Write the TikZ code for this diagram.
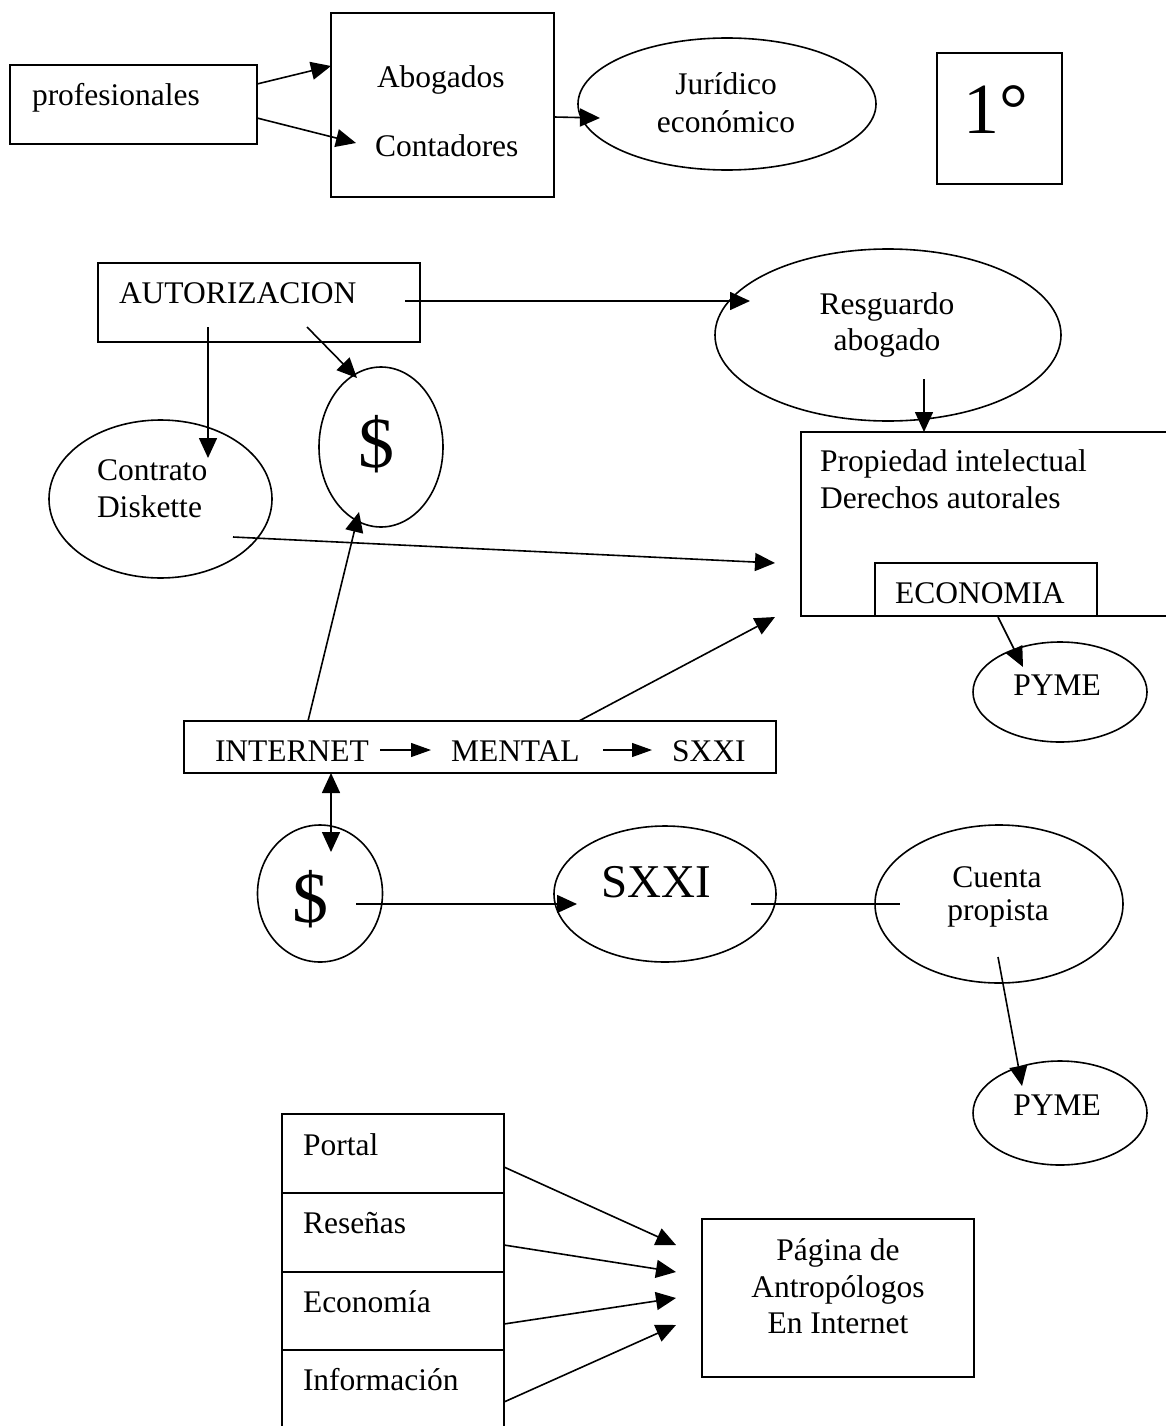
\documentclass[tikz,border=0pt]{standalone}
\usepackage{fontspec}
\setmainfont{Liberation Serif}
\usetikzlibrary{shapes.geometric,arrows.meta}
\begin{document}
\begin{tikzpicture}[x=1pt,y=-1pt,
  line width=1.6pt,
  rbox/.style={draw, rectangle, inner sep=0pt, outer sep=0pt},
  ebox/.style={draw, ellipse, inner sep=0pt, outer sep=0pt},
  lbl/.style={inner sep=0pt, outer sep=0pt, font=\fontsize{31.5}{36}\selectfont},
  lblw/.style={lbl, anchor=base west},
  lblc/.style={lbl, anchor=base},
  bigtxt/.style={inner sep=0pt, outer sep=0pt, font=\fontsize{72}{80}\selectfont},
  arr/.style={-{Triangle[length=20pt,width=18pt]}},
  dblarr/.style={{Triangle[length=20pt,width=18pt]}-{Triangle[length=20pt,width=18pt]}},
  smallarr/.style={line width=1.2pt, -{Triangle[length=20pt,width=14pt]}},
]
\useasboundingbox (0,0) rectangle (1165,1426);

% ---------- shapes ----------
\node[rbox, minimum width=247pt, minimum height=79pt] (prof) at (133.5,104.5) {};
\node[rbox, minimum width=223pt, minimum height=184pt] (abog) at (442.5,105) {};
\node[ebox, minimum width=298pt, minimum height=132pt] (jur) at (727,104) {};
\node[rbox, minimum width=125pt, minimum height=131pt] (one) at (999.5,118.5) {};
\node[rbox, minimum width=322pt, minimum height=79pt] (aut) at (259,302.5) {};
\node[ebox, minimum width=346pt, minimum height=172pt] (resg) at (888,335) {};
\node[ebox, minimum width=124pt, minimum height=160pt] (dol1) at (381,447) {};
\node[ebox, minimum width=223pt, minimum height=158pt] (con) at (160.5,499) {};
\node[rbox, minimum width=379pt, minimum height=184pt] (pi) at (990.5,524) {};
\node[rbox, minimum width=222pt, minimum height=53pt] (eco) at (986,589.5) {};
\node[ebox, minimum width=174pt, minimum height=100pt] (pyme1) at (1060,692) {};
\node[rbox, minimum width=592pt, minimum height=52pt] (inet) at (480,747) {};
\node[ebox, minimum width=125pt, minimum height=137pt] (dol2) at (320,893.5) {};
\node[ebox, minimum width=222pt, minimum height=136pt] (sxxi) at (665,894) {};
\node[ebox, minimum width=248pt, minimum height=158pt] (cuenta) at (999,904) {};
\node[ebox, minimum width=174pt, minimum height=104pt] (pyme2) at (1060,1113) {};
\node[rbox, minimum width=222pt, minimum height=79pt] (s1) at (393,1153.5) {};
\node[rbox, minimum width=222pt, minimum height=79pt] (s2) at (393,1232.5) {};
\node[rbox, minimum width=222pt, minimum height=78pt] (s3) at (393,1311) {};
\node[rbox, minimum width=222pt, minimum height=90pt] (s4) at (393,1395) {};
\node[rbox, minimum width=272pt, minimum height=158pt] (pag) at (838,1298) {};

% ---------- texts ----------
\node[lblw] (tprof) at (32,106) {profesionales};
\node[lblw] (tabo) at (377,88) {Abogados};
\node[lblw] (tcont) at (375,157) {Contadores};
\node[lblc] (tjur1) at (726,95) {Jurídico};
\node[lblc] (tjur2) at (726,132) {económico};
\node[bigtxt, anchor=base west] (tone) at (963,133) {1°};
\node[lblw] (taut) at (119,303) {AUTORIZACION};
\node[lblc] (tres1) at (887,314) {Resguardo};
\node[lblc] (tres2) at (887,350) {abogado};
\node[bigtxt, anchor=base] (td1) at (376,467) {\$};
\node[lblw] (tcon1) at (97,480) {Contrato};
\node[lblw] (tcon2) at (97,517) {Diskette};
\node[lblw] (tpi1) at (820,471) {Propiedad intelectual};
\node[lblw] (tpi2) at (820,508) {Derechos autorales};
\node[lblw] (teco) at (895,603) {ECONOMIA};
\node[lblc] (tpy1) at (1057,695) {PYME};
\node[lblw] (tin1) at (215,761) {INTERNET};
\node[lblw] (tin2) at (451,761) {MENTAL};
\node[lblw] (tin3) at (672,761) {SXXI};
\node[bigtxt, anchor=base] (td2) at (310,922) {\$};
\node[inner sep=0pt, outer sep=0pt, font=\fontsize{47}{52}\selectfont, anchor=base] (tsx) at (656,897) {SXXI};
\node[lblc] (tcu1) at (997,887) {Cuenta};
\node[lblc] (tcu2) at (998,920) {propista};
\node[lblc] (tpy2) at (1057,1115) {PYME};
\node[lblw] (ts1) at (303,1155) {Portal};
\node[lblw] (ts2) at (303,1233) {Reseñas};
\node[lblw] (ts3) at (303,1312) {Economía};
\node[lblw] (ts4) at (303,1390) {Información};
\node[lblc] (tpag1) at (838,1260) {Página de};
\node[lblc] (tpag2) at (838,1297) {Antropólogos};
\node[lblc] (tpag3) at (838,1333) {En Internet};

% ---------- connector end points ----------
\coordinate (pa1) at (257,84);   \coordinate (ab1) at (331,66);
\coordinate (pa2) at (257,118);  \coordinate (ab2) at (356,143);
\coordinate (ab3) at (554,117);  \coordinate (ju1) at (600,118);
\coordinate (au1) at (405,301);  \coordinate (re1) at (750,301);
\coordinate (au2) at (208,327);  \coordinate (co1) at (208,458);
\coordinate (au3) at (307,327);  \coordinate (d11) at (357,378);
\coordinate (re2) at (924,379);  \coordinate (pi1) at (924,432);
\coordinate (co2) at (233,537);  \coordinate (pi2) at (775,563);
\coordinate (in1) at (308,721);  \coordinate (d12) at (359,512);
\coordinate (in2) at (579,721);  \coordinate (pi3) at (775,617);
\coordinate (ec1) at (998,617);  \coordinate (py1) at (1023,667);
\coordinate (in3) at (331,773);  \coordinate (d21) at (331,852);
\coordinate (d22) at (356,904);  \coordinate (sx1) at (577,904);
\coordinate (sx2) at (751,904);  \coordinate (cu1) at (900,904);
\coordinate (cu2) at (998,957);  \coordinate (py2) at (1022,1086);
\coordinate (ia1) at (380,750);  \coordinate (ia2) at (431,750);
\coordinate (ib1) at (603,750);  \coordinate (ib2) at (652,750);
\coordinate (s1o) at (504,1167); \coordinate (pg1) at (676,1245);
\coordinate (s2o) at (504,1245); \coordinate (pg2) at (676,1272);
\coordinate (s3o) at (504,1324); \coordinate (pg3) at (676,1298);
\coordinate (s4o) at (504,1402); \coordinate (pg4) at (676,1325);

% ---------- connectors ----------
\draw[arr] (pa1) -- (ab1);
\draw[arr] (pa2) -- (ab2);
\draw[arr] (ab3) -- (ju1);
\draw[arr] (au1) -- (re1);
\draw[arr] (au2) -- (co1);
\draw[arr] (au3) -- (d11);
\draw[arr] (re2) -- (pi1);
\draw[arr] (co2) -- (pi2);
\draw[arr] (in1) -- (d12);
\draw[arr] (in2) -- (pi3);
\draw[arr] (ec1) -- (py1);
\draw[dblarr] (in3) -- (d21);
\draw[arr] (d22) -- (sx1);
\draw (sx2) -- (cu1);
\draw[arr] (cu2) -- (py2);
\draw[smallarr] (ia1) -- (ia2);
\draw[smallarr] (ib1) -- (ib2);
\draw[arr] (s1o) -- (pg1);
\draw[arr] (s2o) -- (pg2);
\draw[arr] (s3o) -- (pg3);
\draw[arr] (s4o) -- (pg4);
\end{tikzpicture}
\end{document}
